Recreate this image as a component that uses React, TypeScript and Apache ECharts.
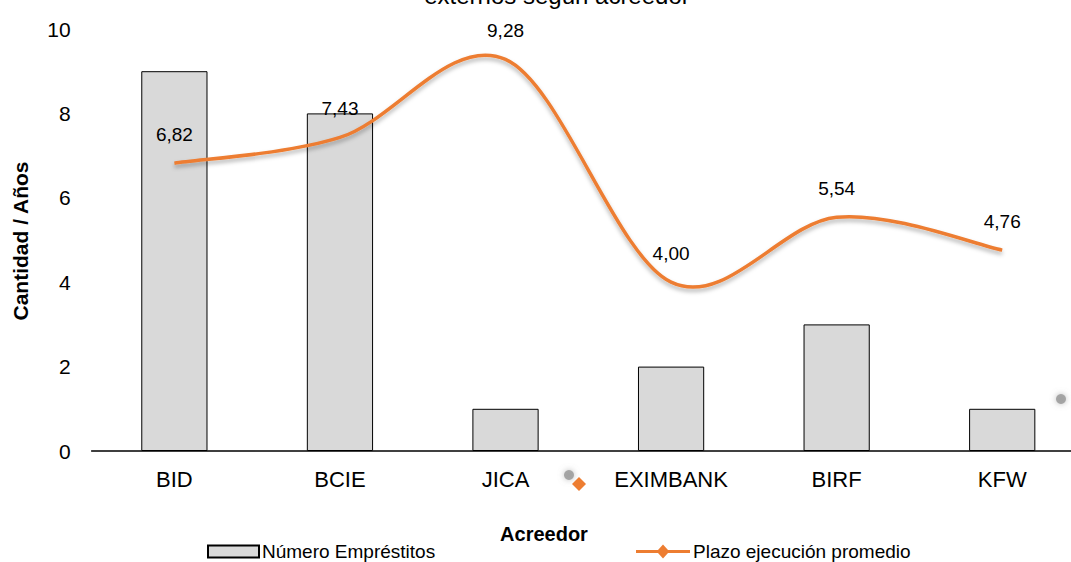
import React, { useEffect, useRef } from "react";
import * as echarts from "echarts";

const categories = ["BID", "BCIE", "JICA", "EXIMBANK", "BIRF", "KFW"];
const prestamos = [9, 8, 1, 2, 3, 1];
const plazo = [6.82, 7.43, 9.28, 4.0, 5.54, 4.76];
const yTicks = { min: 0, max: 10, interval: 2 };
const barName = "Número Empréstitos";
const lineName = "Plazo ejecución promedio";
const titleText = "externos según acreedor";
const xName = "Acreedor";
const yName = "Cantidad / Años";

const FONT = "'Liberation Sans Narrow', 'Arial Narrow', 'Liberation Sans', Arial, sans-serif";
const ORANGE = "#ED7D31";

// Smooth curve (Catmull-Rom style, like a spreadsheet's smoothed line) through library coords
function smoothPath(pts: number[][]) {
  let d = `M${pts[0][0]},${pts[0][1]}`;
  for (let i = 0; i < pts.length - 1; i++) {
    const p0 = pts[i - 1] || pts[i];
    const p1 = pts[i];
    const p2 = pts[i + 1];
    const p3 = pts[i + 2] || pts[i + 1];
    const c1x = p1[0] + (p2[0] - p0[0]) / 6;
    const c1y = p1[1] + (p2[1] - p0[1]) / 6;
    const c2x = p2[0] - (p3[0] - p1[0]) / 6;
    const c2y = p2[1] - (p3[1] - p1[1]) / 6;
    d += ` C${c1x},${c1y} ${c2x},${c2y} ${p2[0]},${p2[1]}`;
  }
  return d;
}

export default function App() {
  const ref = useRef<HTMLDivElement>(null);
  useEffect(() => {
    document.body.style.margin = "0";
    const chart = echarts.init(ref.current!, null, { renderer: "svg" });
    chart.setOption({
      animation: false,
      textStyle: { fontFamily: FONT },
      grid: { left: 91.6, right: 0, top: 29, bottom: 111, containLabel: false },
      legend: [
        {
          left: 207,
          top: 542,
          padding: 0,
          itemWidth: 51,
          itemHeight: 12,
          itemGap: 4,
          textStyle: { fontFamily: FONT, fontSize: 19, color: "#000", padding: [0, 0, 0, -2] },
          data: [{ name: barName, icon: "rect" }],
        },
        {
          left: 636,
          top: 542,
          padding: 0,
          itemWidth: 54,
          itemHeight: 14,
          symbolKeepAspect: false,
          textStyle: { fontFamily: FONT, fontSize: 19, color: "#000", padding: [0, 0, 0, -2] },
          data: [
            {
              name: lineName,
              icon: "path://M0,5.5 L22,5.5 L27,0 L32,5.5 L54,5.5 L54,8.5 L32,8.5 L27,14 L22,8.5 L0,8.5 Z",
              itemStyle: { color: ORANGE, borderWidth: 0 },
            },
          ],
        },
      ],
      xAxis: {
        type: "category",
        data: categories,
        axisLine: { lineStyle: { color: "#000", width: 1.5 } },
        axisTick: { show: false },
        axisLabel: { color: "#000", fontSize: 22, fontFamily: FONT, margin: 17 },
      },
      yAxis: {
        type: "value",
        min: yTicks.min,
        max: yTicks.max,
        interval: yTicks.interval,
        splitLine: { show: false },
        axisLine: { show: false },
        axisTick: { show: false },
        axisLabel: { color: "#000", fontSize: 21, fontFamily: FONT, margin: 21 },
      },
      graphic: [
        {
          type: "text",
          x: 557,
          y: 7,
          style: {
            text: titleText,
            font: `24px ${FONT}`,
            fill: "#000",
            align: "center",
            verticalAlign: "bottom",
          },
        },
        {
          type: "text",
          x: 544,
          y: 534,
          style: {
            text: xName,
            font: `bold 20px ${FONT}`,
            fill: "#000",
            align: "center",
            verticalAlign: "middle",
          },
        },
        {
          type: "text",
          x: 20,
          y: 241,
          rotation: Math.PI / 2,
          style: {
            text: yName,
            font: `bold 21px ${FONT}`,
            fill: "#000",
            align: "center",
            verticalAlign: "middle",
          },
        },
        {
          type: "circle",
          shape: { cx: 569, cy: 475, r: 5 },
          style: { fill: "rgba(150,150,150,0.8)", shadowBlur: 6, shadowColor: "rgba(150,150,150,0.8)" },
        },
        {
          type: "circle",
          shape: { cx: 1061, cy: 399, r: 5 },
          style: { fill: "rgba(150,150,150,0.8)", shadowBlur: 6, shadowColor: "rgba(150,150,150,0.8)" },
        },
        {
          type: "polygon",
          shape: { points: [[579, 477], [586, 484], [579, 491], [572, 484]] },
          style: { fill: ORANGE },
        },
      ],
      series: [
        {
          name: barName,
          type: "bar",
          data: prestamos,
          barWidth: "40%",
          itemStyle: { color: "#D9D9D9", borderColor: "#000", borderWidth: 1 },
        },
        {
          name: lineName,
          type: "custom",
          data: plazo.map((v, i) => [i, v]),
          encode: { x: 0, y: 1 },
          z: 3,
          renderItem: (params: any, api: any) => {
            if (params.dataIndex !== 0) return null;
            const pts = plazo.map((v, i) => api.coord([i, v]));
            return {
              type: "path",
              shape: { pathData: smoothPath(pts) },
              style: {
                fill: "none",
                stroke: ORANGE,
                lineWidth: 3.5,
                shadowColor: "rgba(0,0,0,0.3)",
                shadowBlur: 4,
                shadowOffsetY: 3,
              },
            };
          },
        },
        {
          name: lineName,
          type: "line",
          data: plazo,
          symbol: "circle",
          symbolSize: 0.01,
          itemStyle: { color: ORANGE },
          lineStyle: { opacity: 0 },
          z: 4,
          label: {
            show: true,
            position: "top",
            distance: 19,
            color: "#000",
            fontSize: 19,
            fontFamily: FONT,
            formatter: (p: any) => p.value.toFixed(2).replace(".", ","),
          },
        },
      ],
    });
    return () => chart.dispose();
  }, []);
  return (
    <div style={{ width: 1071, height: 562, overflow: "hidden" }}>
      <div ref={ref} style={{ width: 1085, height: 562 }} />
    </div>
  );
}
